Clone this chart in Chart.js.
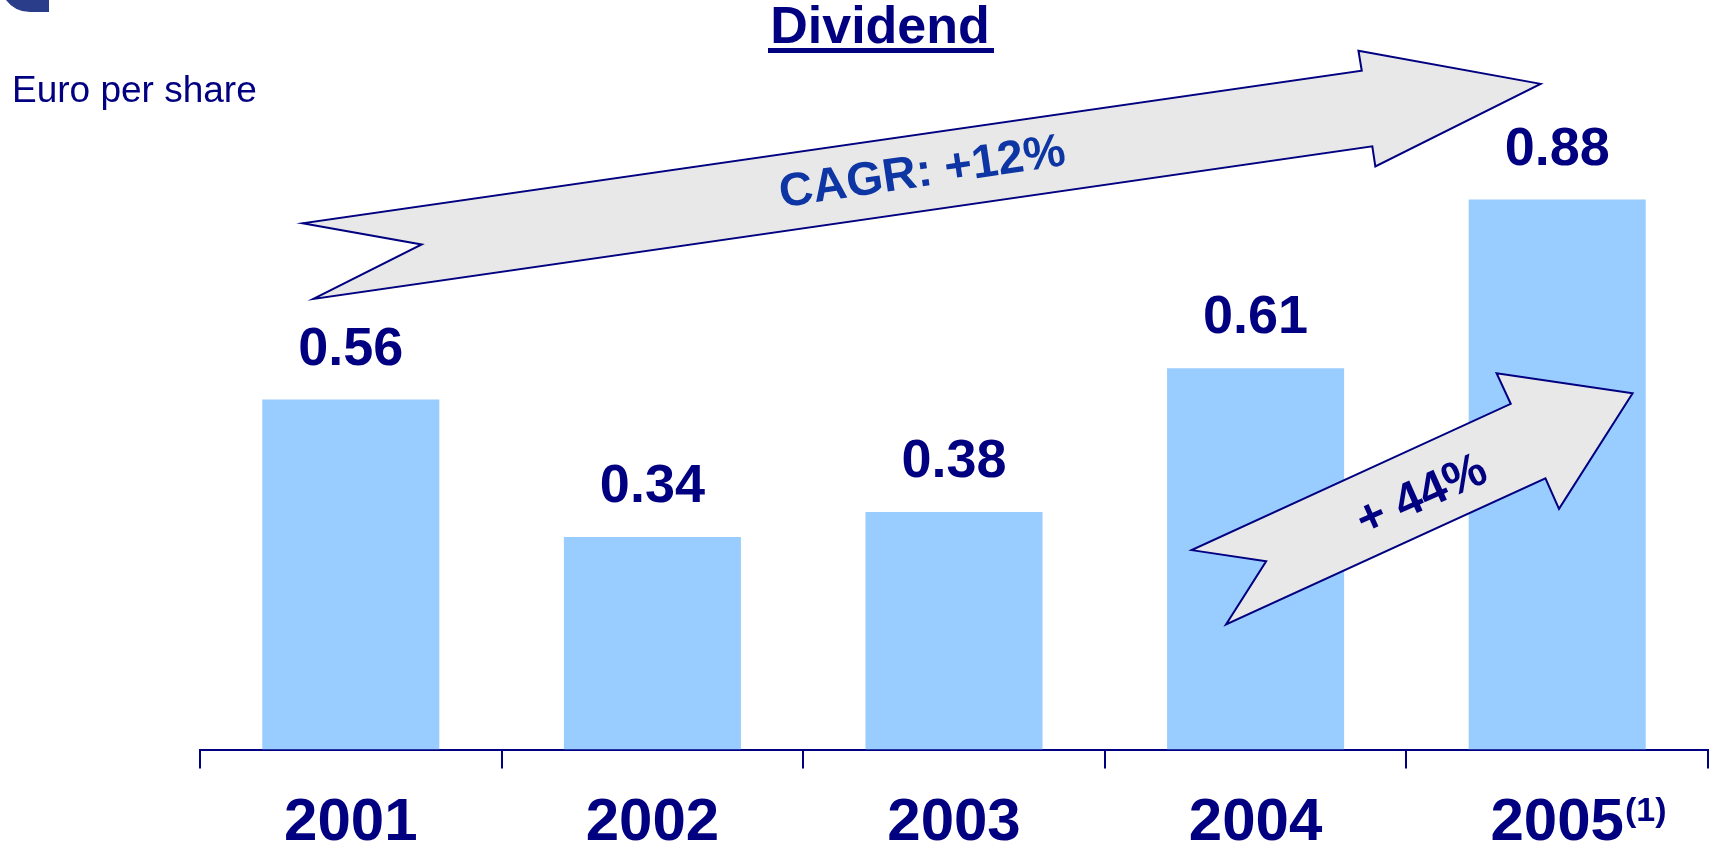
<!DOCTYPE html>
<html>
<head>
<meta charset="utf-8">
<script src="https://cdn.jsdelivr.net/npm/chart.js@4"></script>
<style>
  html, body { margin: 0; padding: 0; background: #fff; overflow: hidden; }
  #wrap { width: 1713px; height: 850px; }
</style>
</head>
<body>
<div id="wrap"><canvas id="dividend-chart" width="1713" height="850"></canvas></div>
<script>
const years = ["2001", "2002", "2003", "2004", "2005"];
const dividends = [0.56, 0.34, 0.38, 0.61, 0.88];
const yearNotes = ["", "", "", "", "(1)"];

const navy = "#000080";
const fontFamily = "'Liberation Sans', Arial, sans-serif";

// arrow outlines in axis units: [category index, euro per share]
const cagrArrow = [
  [-0.160, 0.842], [0.235, 0.808], [-0.124, 0.721], [3.387, 0.965],
  [3.397, 0.933], [3.945, 1.065], [3.341, 1.118], [3.352, 1.086],
];
const jumpArrow = [
  [2.788, 0.319], [3.035, 0.301], [2.902, 0.200], [3.961, 0.434],
  [4.006, 0.385], [4.250, 0.570], [3.799, 0.602], [3.846, 0.553],
];

function tracePath(ctx, x, y, pts) {
  ctx.beginPath();
  pts.forEach((p, i) => {
    const px = x.getPixelForValue(p[0]);
    const py = y.getPixelForValue(p[1]);
    if (i === 0) ctx.moveTo(px, py);
    else ctx.lineTo(px, py);
  });
  ctx.closePath();
}

function rotatedText(ctx, text, px, py, deg, font, color) {
  ctx.save();
  ctx.translate(px, py);
  ctx.rotate((deg * Math.PI) / 180);
  ctx.font = font;
  ctx.fillStyle = color;
  ctx.textAlign = "center";
  ctx.textBaseline = "middle";
  ctx.fillText(text, 0, 0);
  ctx.restore();
}

const decorations = {
  id: "decorations",
  afterDatasetsDraw(chart) {
    const { ctx, scales: { x, y } } = chart;
    ctx.save();

    // growth arrows
    [cagrArrow, jumpArrow].forEach((pts) => {
      tracePath(ctx, x, y, pts);
      ctx.fillStyle = "#e8e8e8";
      ctx.fill();
      ctx.lineWidth = 2;
      ctx.lineJoin = "miter";
      ctx.strokeStyle = navy;
      ctx.stroke();
    });
    rotatedText(ctx, "CAGR: +12%", x.getPixelForValue(1.895), y.getPixelForValue(0.922),
      -8.5, `bold 47px ${fontFamily}`, "#0d35a3");
    rotatedText(ctx, "+ 44%", x.getPixelForValue(3.552), y.getPixelForValue(0.405),
      -24, `bold 48px ${fontFamily}`, navy);

    // value labels above bars
    const meta = chart.getDatasetMeta(0);
    ctx.font = `bold 54px ${fontFamily}`;
    ctx.fillStyle = navy;
    ctx.textAlign = "center";
    ctx.textBaseline = "alphabetic";
    meta.data.forEach((bar, i) => {
      ctx.fillText(dividends[i].toFixed(2), bar.x, bar.y - 35);
    });
    ctx.restore();
  },
  afterDraw(chart) {
    const { ctx, scales: { x } } = chart;
    ctx.save();

    // corner logo piece
    ctx.fillStyle = "#2a3d8a";
    ctx.beginPath();
    ctx.moveTo(0, 0);
    ctx.lineTo(49, 0);
    ctx.lineTo(49, 12);
    ctx.lineTo(30, 12);
    ctx.arc(30, -18, 30, Math.PI / 2, Math.PI * 0.8);
    ctx.closePath();
    ctx.fill();

    // title
    ctx.fillStyle = navy;
    ctx.font = `bold 52px ${fontFamily}`;
    ctx.textAlign = "center";
    ctx.textBaseline = "alphabetic";
    ctx.fillText("Dividend", 880, 43);
    ctx.fillRect(768, 48, 226, 5);

    // unit
    ctx.font = `37px ${fontFamily}`;
    ctx.textAlign = "left";
    ctx.fillText("Euro per share", 12, 102);

    // footnote marks on year labels
    yearNotes.forEach((note, i) => {
      if (!note) return;
      ctx.font = `bold 60px ${fontFamily}`;
      const w = ctx.measureText(years[i]).width;
      ctx.font = `bold 34px ${fontFamily}`;
      ctx.fillText(note, x.getPixelForTick(i) + w / 2 + 1, 821);
    });
    ctx.restore();
  },
};

const dividendChart = new Chart(document.getElementById("dividend-chart"), {
  type: "bar",
  data: {
    labels: years,
    datasets: [
      {
        data: dividends,
        backgroundColor: "#99ccff",
        borderWidth: 0,
        barPercentage: 0.587,
        categoryPercentage: 1,
      },
    ],
  },
  options: {
    responsive: false,
    animation: false,
    events: [],
    layout: {
      padding: { left: 200, right: 5, top: 124.5, bottom: -28.5 },
    },
    scales: {
      y: { display: false, min: 0, max: 1 },
      x: {
        grid: {
          offset: true,
          drawOnChartArea: false,
          drawTicks: true,
          tickLength: 19,
          color: navy,
          lineWidth: 2,
        },
        border: { color: navy, width: 2 },
        ticks: {
          color: navy,
          padding: 25,
          font: { family: fontFamily, size: 60, weight: "bold", lineHeight: 1 },
        },
      },
    },
    plugins: {
      legend: { display: false },
      tooltip: { enabled: false },
    },
  },
  plugins: [decorations],
});
</script>
</body>
</html>
